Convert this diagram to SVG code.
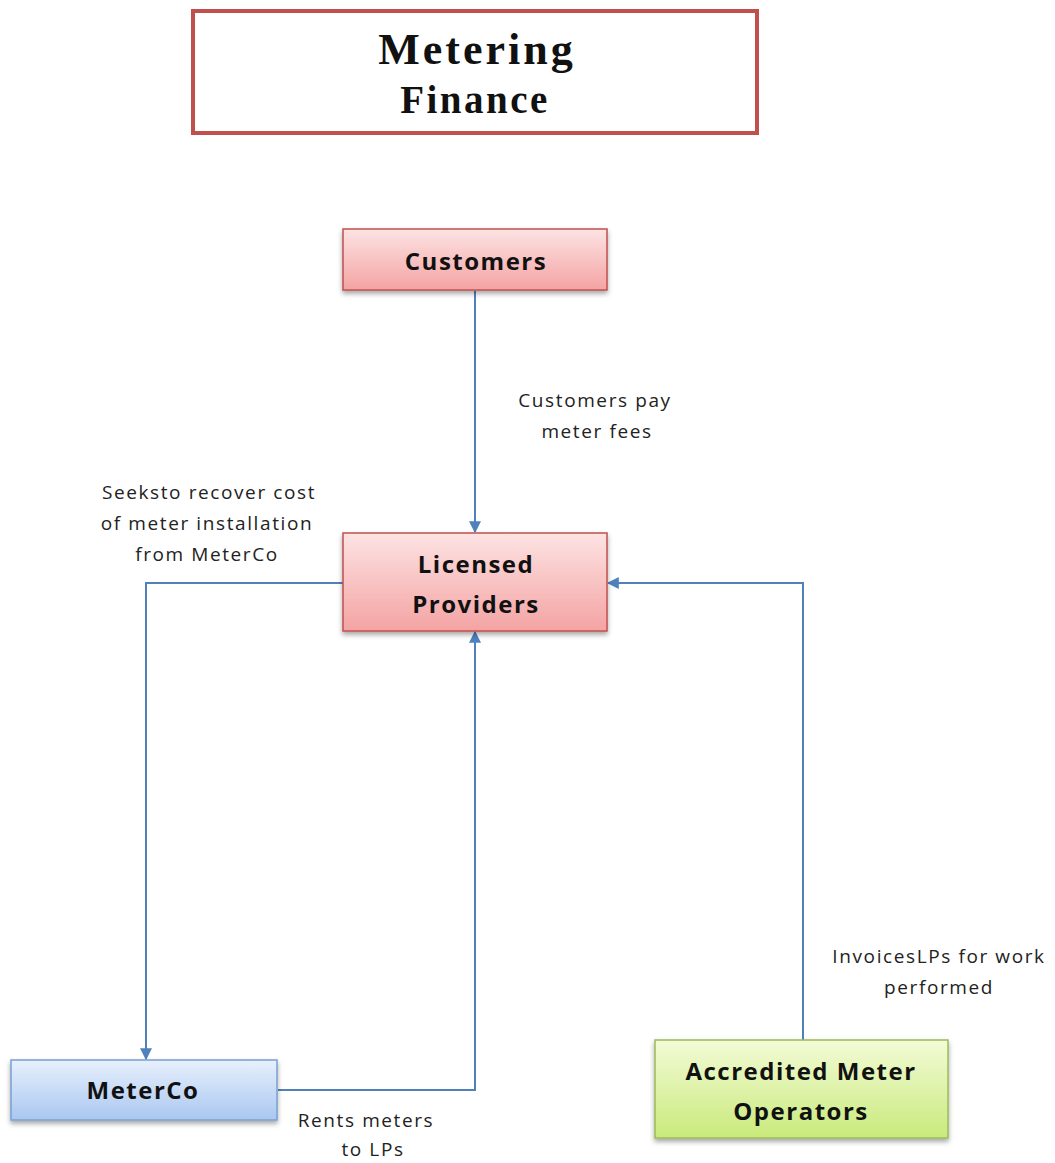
<svg xmlns="http://www.w3.org/2000/svg" width="1055" height="1163" viewBox="0 0 1055 1163">
<defs>
<linearGradient id="gRed" x1="0" y1="0" x2="0" y2="1"><stop offset="0" stop-color="#fde3e3"/><stop offset="1" stop-color="#f4a3a3"/></linearGradient>
<linearGradient id="gBlue" x1="0" y1="0" x2="0" y2="1"><stop offset="0" stop-color="#e8f0fd"/><stop offset="1" stop-color="#a9c7f0"/></linearGradient>
<linearGradient id="gGreen" x1="0" y1="0" x2="0" y2="1"><stop offset="0" stop-color="#f3fbd6"/><stop offset="1" stop-color="#c9ea7c"/></linearGradient>
<filter id="sh" x="-10%" y="-10%" width="120%" height="140%"><feDropShadow dx="0" dy="3" stdDeviation="2.5" flood-color="#000" flood-opacity="0.35"/></filter>
<marker id="arr" viewBox="0 0 10 10" refX="9" refY="5" markerWidth="12" markerHeight="12" markerUnits="userSpaceOnUse" orient="auto"><path d="M0,0 L10,5 L0,10 z" fill="#4f81bd"/></marker>
</defs>
<style>
.node text{font-family:"Open Sans","Liberation Sans",sans-serif;font-weight:bold;font-size:24px;letter-spacing:1.5px;fill:#111;text-anchor:middle}
.lbl{font-family:"Open Sans","Liberation Sans",sans-serif;font-size:19px;letter-spacing:1.6px;fill:#222;text-anchor:middle}
.con{fill:none;stroke:#4f81bd;stroke-width:2;marker-end:url(#arr)}
</style>
<rect width="1055" height="1163" fill="#fff"/>
<g id="title">
<rect x="193" y="11" width="564" height="122" fill="#fff" stroke="#c0504d" stroke-width="4"/>
<text x="477" y="64" font-family="Liberation Serif,serif" font-weight="bold" font-size="44" letter-spacing="3" text-anchor="middle" fill="#111">Metering</text>
<text x="475" y="113" font-family="Liberation Serif,serif" font-weight="bold" font-size="39" letter-spacing="2.5" text-anchor="middle" fill="#111">Finance</text>
</g>
<g id="connectors">
<path class="con" d="M475,291 L475,532"/>
<path class="con" d="M343,583 L146,583 L146,1059"/>
<path class="con" d="M278,1090 L475,1090 L475,632"/>
<path class="con" d="M803,1040 L803,583 L608,583"/>
</g>
<g id="customers" class="node">
<rect x="343" y="229" width="264" height="61" fill="url(#gRed)" stroke="#c0504d" stroke-width="1.5" filter="url(#sh)"/>
<text x="476" y="270">Customers</text>
</g>
<g id="licensed-providers" class="node">
<rect x="343" y="533" width="264" height="98" fill="url(#gRed)" stroke="#c0504d" stroke-width="1.5" filter="url(#sh)"/>
<text x="476" y="573">Licensed</text>
<text x="476" y="613">Providers</text>
</g>
<g id="meterco" class="node">
<rect x="11" y="1060" width="266" height="60" fill="url(#gBlue)" stroke="#7a9fd1" stroke-width="1.5" filter="url(#sh)"/>
<text x="143" y="1099">MeterCo</text>
</g>
<g id="amo" class="node">
<rect x="655" y="1040" width="293" height="98" fill="url(#gGreen)" stroke="#9bbb59" stroke-width="1.5" filter="url(#sh)"/>
<text x="801" y="1080">Accredited Meter</text>
<text x="801" y="1120">Operators</text>
</g>
<g id="labels">
<text class="lbl" x="595" y="407">Customers pay</text>
<text class="lbl" x="597" y="438">meter fees</text>
<text class="lbl" x="209" y="499">Seeksto recover cost</text>
<text class="lbl" x="207" y="530">of meter installation</text>
<text class="lbl" x="207" y="561">from MeterCo</text>
<text class="lbl" x="939" y="963">InvoicesLPs for work</text>
<text class="lbl" x="939" y="994">performed</text>
<text class="lbl" x="366" y="1127">Rents meters</text>
<text class="lbl" x="373" y="1156">to LPs</text>
</g>
</svg>
